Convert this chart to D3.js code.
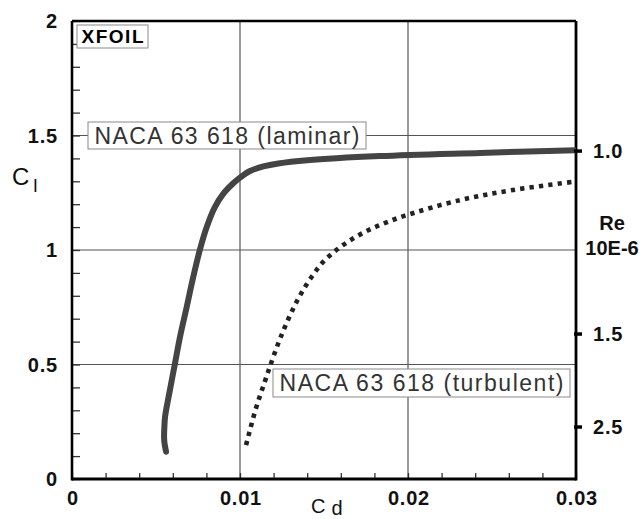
<!DOCTYPE html>
<html>
<head>
<meta charset="utf-8">
<script src="https://cdn.jsdelivr.net/npm/d3@7"></script>
<style>
body { margin: 0; background: #fff; }
svg { font-family: "Liberation Sans", Arial, sans-serif; }
</style>
</head>
<body>
<div id="chart"></div>
<script>
// polar data (Cd, Cl)
const laminarCd = [0.00560, 0.00550, 0.00548, 0.00550, 0.00554, 0.00579, 0.00613, 0.00643, 0.00683, 0.00722, 0.00762, 0.00802, 0.00848, 0.00900, 0.00955, 0.01000, 0.01060, 0.01139, 0.01228, 0.01400, 0.01833, 0.02430, 0.03000];
const laminarCl = [0.119, 0.16, 0.185, 0.23, 0.272, 0.374, 0.505, 0.621, 0.752, 0.883, 1.003, 1.100, 1.184, 1.245, 1.288, 1.316, 1.345, 1.365, 1.378, 1.392, 1.410, 1.424, 1.436];

const turbulentCd = [0.01036, 0.01095, 0.01149, 0.01188, 0.01228, 0.01268, 0.01317, 0.01367, 0.01427, 0.01496, 0.01579, 0.01675, 0.01774, 0.01873, 0.01982, 0.02310, 0.02625, 0.03000];
const turbulentCl = [0.148, 0.309, 0.428, 0.512, 0.593, 0.665, 0.745, 0.814, 0.883, 0.949, 1.003, 1.051, 1.090, 1.121, 1.150, 1.218, 1.262, 1.299];

const xTicks = [0, 0.01, 0.02, 0.03];
const xTickLabels = ["0", "0.01", "0.02", "0.03"];
const yTicks = [0, 0.5, 1, 1.5, 2];
const yTickLabels = ["0", "0.5", "1", "1.5", "2"];

// Reynolds number marks on the right edge
const reLabels = ["1.0", "1.5", "2.5"];
const reCl = [1.432, 0.633, 0.227];

const margin = {top: 21, right: 68, bottom: 40, left: 72};
const width = 644 - margin.left - margin.right;
const height = 519 - margin.top - margin.bottom;

const svg = d3.select("#chart")
    .append("svg")
    .attr("width", 644)
    .attr("height", 519);

const g = svg.append("g")
    .attr("transform", `translate(${margin.left},${margin.top})`);

const x = d3.scaleLinear().domain([0, 0.03]).range([0, width]);
const y = d3.scaleLinear().domain([0, 2]).range([height, 0]);

// grid
g.selectAll(".vgrid")
    .data([0.01, 0.02])
    .enter().append("line")
    .attr("x1", d => x(d)).attr("x2", d => x(d))
    .attr("y1", 0).attr("y2", height)
    .attr("stroke", "#555").attr("stroke-width", 1.2);

g.selectAll(".hgrid")
    .data([0.5, 1, 1.5])
    .enter().append("line")
    .attr("x1", 0).attr("x2", width)
    .attr("y1", d => y(d)).attr("y2", d => y(d))
    .attr("stroke", "#555").attr("stroke-width", 1.2);

// minor ticks, pointing in
g.append("g")
    .attr("transform", `translate(0,${height})`)
    .call(d3.axisBottom(x).tickValues(d3.range(0, 0.0301, 0.002)).tickSize(-6).tickFormat(""))
    .call(a => a.select(".domain").remove())
    .call(a => a.selectAll("line").attr("stroke", "#333").attr("stroke-width", 1.3));

g.append("g")
    .call(d3.axisLeft(y).tickValues(d3.range(0, 2.001, 0.1)).tickSize(-8).tickFormat(""))
    .call(a => a.select(".domain").remove())
    .call(a => a.selectAll("line").attr("stroke", "#333").attr("stroke-width", 1.3));

// frame
g.append("line").attr("x1", 0).attr("x2", width).attr("y1", height).attr("y2", height)
    .attr("stroke", "#000").attr("stroke-width", 3);
g.append("line").attr("x1", 0).attr("x2", 0).attr("y1", 0).attr("y2", height + 1.5)
    .attr("stroke", "#000").attr("stroke-width", 2.6);
g.append("line").attr("x1", 0).attr("x2", width).attr("y1", 0).attr("y2", 0)
    .attr("stroke", "#000").attr("stroke-width", 2.4);
g.append("line").attr("x1", width).attr("x2", width).attr("y1", 0).attr("y2", height + 1.5)
    .attr("stroke", "#000").attr("stroke-width", 2.8);

// tick labels
g.selectAll(".xl")
    .data(xTicks)
    .enter().append("text")
    .attr("x", d => x(d) + 1)
    .attr("y", height + 26)
    .attr("text-anchor", "middle")
    .attr("font-size", 20).attr("font-weight", "bold")
    .attr("letter-spacing", 0.8)
    .attr("fill", "#111")
    .text((d, i) => xTickLabels[i]);

g.selectAll(".yl")
    .data(yTicks)
    .enter().append("text")
    .attr("x", -14)
    .attr("y", d => y(d))
    .attr("dy", "0.36em")
    .attr("text-anchor", "end")
    .attr("font-size", 20).attr("font-weight", "bold")
    .attr("letter-spacing", 0.8)
    .attr("fill", "#111")
    .text((d, i) => yTickLabels[i]);

// curves
g.append("clipPath").attr("id", "plotclip")
    .append("rect").attr("width", width).attr("height", height);

const line = d3.line()
    .x(d => x(d[0]))
    .y(d => y(d[1]))
    .curve(d3.curveCatmullRom.alpha(0.5));

g.append("path")
    .datum(laminarCd.map((d, i) => [d, laminarCl[i]]))
    .attr("clip-path", "url(#plotclip)")
    .attr("fill", "none")
    .attr("stroke", "#444")
    .attr("stroke-width", 6)
    .attr("stroke-linecap", "round")
    .attr("d", line);

g.append("path")
    .datum(turbulentCd.map((d, i) => [d, turbulentCl[i]]))
    .attr("fill", "none")
    .attr("stroke", "#222")
    .attr("stroke-width", 4.6)
    .attr("stroke-dasharray", "4.3,5.1")
    .attr("d", line);

// Re marks
g.selectAll(".remark")
    .data(reCl)
    .enter().append("line")
    .attr("x1", width - 2).attr("x2", width + 6)
    .attr("y1", d => y(d)).attr("y2", d => y(d))
    .attr("stroke", "#000").attr("stroke-width", 3.5);

g.selectAll(".relabel")
    .data(reCl)
    .enter().append("text")
    .attr("x", width + 17)
    .attr("y", d => y(d))
    .attr("dy", "0.36em")
    .attr("font-size", 20).attr("font-weight", "bold")
    .attr("letter-spacing", 0.8)
    .attr("fill", "#111")
    .text((d, i) => reLabels[i]);

g.append("text")
    .attr("x", width + 36).attr("y", y(1.118)).attr("dy", "0.36em")
    .attr("text-anchor", "middle")
    .attr("font-size", 20).attr("font-weight", "bold").attr("fill", "#111")
    .text("Re");
g.append("text")
    .attr("x", width + 36).attr("y", y(1.01)).attr("dy", "0.36em")
    .attr("text-anchor", "middle")
    .attr("font-size", 20).attr("font-weight", "bold").attr("fill", "#111")
    .text("10E-6");

// labelled boxes
function box(x0, y0, w, h, label, size, weight, color, len) {
    svg.append("rect")
        .attr("x", x0).attr("y", y0).attr("width", w).attr("height", h)
        .attr("fill", "#fff").attr("stroke", "#8a8a8a").attr("stroke-width", 1);
    svg.append("text")
        .attr("x", x0 + (w - len) / 2).attr("y", y0 + h / 2)
        .attr("dy", "0.36em")
        .attr("font-size", size).attr("font-weight", weight)
        .attr("fill", color)
        .attr("textLength", len).attr("lengthAdjust", "spacing")
        .text(label);
}
box(77, 25, 71, 23, "XFOIL", 19, "bold", "#000", 62);
box(88, 122, 278, 27, "NACA 63 618 (laminar)", 23, "normal", "#333", 265);
box(273, 369, 297, 28, "NACA 63 618 (turbulent)", 23, "normal", "#333", 284);

// axis titles
const cl = svg.append("text").attr("x", 12).attr("y", 185).attr("fill", "#111");
cl.append("tspan").attr("font-size", 24).text("C");
cl.append("tspan").attr("font-size", 19).attr("dx", 4).attr("dy", 7).text("l");

const cd = svg.append("text").attr("x", 311).attr("y", 513).attr("fill", "#111");
cd.append("tspan").attr("font-size", 20).text("C");
cd.append("tspan").attr("font-size", 20).attr("dx", 6).attr("dy", 2).text("d");
</script>
</body>
</html>
